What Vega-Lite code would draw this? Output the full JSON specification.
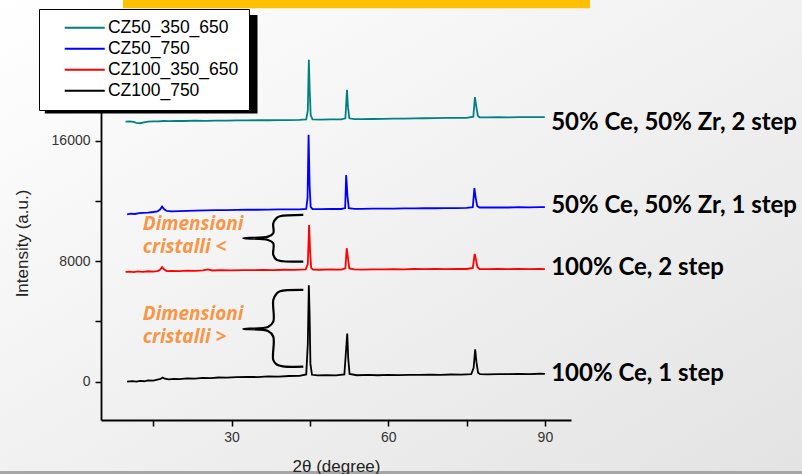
{
  "$schema": "https://vega.github.io/schema/vega-lite/v6.json",
  "width": 470,
  "height": 400,
  "autosize": {"type": "none"},
  "padding": {"left": 101, "top": 20, "right": 231, "bottom": 54},
  "background": "#f2f2f2",
  "config": {"view": {"stroke": null}, "font": "Liberation Sans"},
  "datasets": {
    "xrd": [
      {"s":"CZ100_750","t":10,"v":10},{"s":"CZ100_750","t":11,"v":40},{"s":"CZ100_750","t":11.8,"v":10},{"s":"CZ100_750","t":12.5,"v":60},{"s":"CZ100_750","t":13.3,"v":30},{"s":"CZ100_750","t":14,"v":90},{"s":"CZ100_750","t":15,"v":70},{"s":"CZ100_750","t":15.8,"v":140},{"s":"CZ100_750","t":16.4,"v":180},{"s":"CZ100_750","t":16.8,"v":280},{"s":"CZ100_750","t":17.2,"v":200},{"s":"CZ100_750","t":18,"v":150},{"s":"CZ100_750","t":19,"v":190},{"s":"CZ100_750","t":20,"v":170},{"s":"CZ100_750","t":21.5,"v":220},{"s":"CZ100_750","t":23,"v":200},{"s":"CZ100_750","t":24.5,"v":250},{"s":"CZ100_750","t":26,"v":240},{"s":"CZ100_750","t":27.5,"v":280},{"s":"CZ100_750","t":29,"v":270},{"s":"CZ100_750","t":31,"v":300},{"s":"CZ100_750","t":33,"v":320},{"s":"CZ100_750","t":35,"v":310},{"s":"CZ100_750","t":37,"v":350},{"s":"CZ100_750","t":39,"v":340},{"s":"CZ100_750","t":41,"v":380},{"s":"CZ100_750","t":43,"v":390},{"s":"CZ100_750","t":44.3,"v":480},{"s":"CZ100_750","t":44.6,"v":2500},{"s":"CZ100_750","t":44.8,"v":6400},{"s":"CZ100_750","t":44.95,"v":4400},{"s":"CZ100_750","t":45.1,"v":1200},{"s":"CZ100_750","t":45.4,"v":460},{"s":"CZ100_750","t":46.5,"v":420},{"s":"CZ100_750","t":48,"v":440},{"s":"CZ100_750","t":50,"v":420},{"s":"CZ100_750","t":51.6,"v":480},{"s":"CZ100_750","t":51.95,"v":2200},{"s":"CZ100_750","t":52.15,"v":3200},{"s":"CZ100_750","t":52.35,"v":1500},{"s":"CZ100_750","t":52.6,"v":520},{"s":"CZ100_750","t":54,"v":430},{"s":"CZ100_750","t":56,"v":450},{"s":"CZ100_750","t":58,"v":430},{"s":"CZ100_750","t":60,"v":450},{"s":"CZ100_750","t":62,"v":440},{"s":"CZ100_750","t":64,"v":460},{"s":"CZ100_750","t":66,"v":450},{"s":"CZ100_750","t":68,"v":470},{"s":"CZ100_750","t":70,"v":460},{"s":"CZ100_750","t":72,"v":480},{"s":"CZ100_750","t":74,"v":470},{"s":"CZ100_750","t":75.9,"v":500},{"s":"CZ100_750","t":76.35,"v":900},{"s":"CZ100_750","t":76.65,"v":2150},{"s":"CZ100_750","t":76.9,"v":1300},{"s":"CZ100_750","t":77.2,"v":600},{"s":"CZ100_750","t":77.6,"v":500},{"s":"CZ100_750","t":79,"v":490},{"s":"CZ100_750","t":81,"v":510},{"s":"CZ100_750","t":83,"v":500},{"s":"CZ100_750","t":85,"v":520},{"s":"CZ100_750","t":87,"v":510},{"s":"CZ100_750","t":89,"v":530},{"s":"CZ100_750","t":90,"v":520},

      {"s":"CZ100_350_650","t":9.7,"v":7290},{"s":"CZ100_350_650","t":10.5,"v":7310},{"s":"CZ100_350_650","t":11.3,"v":7270},{"s":"CZ100_350_650","t":12,"v":7320},{"s":"CZ100_350_650","t":13,"v":7290},{"s":"CZ100_350_650","t":14,"v":7330},{"s":"CZ100_350_650","t":15,"v":7300},{"s":"CZ100_350_650","t":15.8,"v":7340},{"s":"CZ100_350_650","t":16.3,"v":7420},{"s":"CZ100_350_650","t":16.7,"v":7600},{"s":"CZ100_350_650","t":17.1,"v":7450},{"s":"CZ100_350_650","t":17.6,"v":7340},{"s":"CZ100_350_650","t":18.5,"v":7360},{"s":"CZ100_350_650","t":20,"v":7340},{"s":"CZ100_350_650","t":21.5,"v":7370},{"s":"CZ100_350_650","t":23,"v":7360},{"s":"CZ100_350_650","t":24.5,"v":7390},{"s":"CZ100_350_650","t":25.5,"v":7450},{"s":"CZ100_350_650","t":26.3,"v":7380},{"s":"CZ100_350_650","t":28,"v":7400},{"s":"CZ100_350_650","t":30,"v":7390},{"s":"CZ100_350_650","t":32,"v":7410},{"s":"CZ100_350_650","t":34,"v":7400},{"s":"CZ100_350_650","t":36,"v":7420},{"s":"CZ100_350_650","t":38,"v":7410},{"s":"CZ100_350_650","t":40,"v":7430},{"s":"CZ100_350_650","t":42,"v":7420},{"s":"CZ100_350_650","t":44.2,"v":7450},{"s":"CZ100_350_650","t":44.6,"v":7800},{"s":"CZ100_350_650","t":44.85,"v":10400},{"s":"CZ100_350_650","t":45.05,"v":8600},{"s":"CZ100_350_650","t":45.25,"v":7550},{"s":"CZ100_350_650","t":45.6,"v":7440},{"s":"CZ100_350_650","t":47,"v":7430},{"s":"CZ100_350_650","t":49,"v":7450},{"s":"CZ100_350_650","t":51,"v":7440},{"s":"CZ100_350_650","t":51.8,"v":7520},{"s":"CZ100_350_650","t":52.05,"v":8860},{"s":"CZ100_350_650","t":52.3,"v":8200},{"s":"CZ100_350_650","t":52.55,"v":7520},{"s":"CZ100_350_650","t":53.5,"v":7450},{"s":"CZ100_350_650","t":55,"v":7440},{"s":"CZ100_350_650","t":57,"v":7460},{"s":"CZ100_350_650","t":59,"v":7450},{"s":"CZ100_350_650","t":61,"v":7470},{"s":"CZ100_350_650","t":63,"v":7460},{"s":"CZ100_350_650","t":65,"v":7480},{"s":"CZ100_350_650","t":67,"v":7470},{"s":"CZ100_350_650","t":69,"v":7480},{"s":"CZ100_350_650","t":71,"v":7470},{"s":"CZ100_350_650","t":73,"v":7490},{"s":"CZ100_350_650","t":75,"v":7480},{"s":"CZ100_350_650","t":76.2,"v":7550},{"s":"CZ100_350_650","t":76.55,"v":8480},{"s":"CZ100_350_650","t":76.8,"v":8100},{"s":"CZ100_350_650","t":77.1,"v":7600},{"s":"CZ100_350_650","t":77.5,"v":7480},{"s":"CZ100_350_650","t":79,"v":7470},{"s":"CZ100_350_650","t":81,"v":7490},{"s":"CZ100_350_650","t":83,"v":7470},{"s":"CZ100_350_650","t":85,"v":7490},{"s":"CZ100_350_650","t":87,"v":7470},{"s":"CZ100_350_650","t":89,"v":7480},{"s":"CZ100_350_650","t":90,"v":7470},

      {"s":"CZ50_750","t":10,"v":11110},{"s":"CZ50_750","t":10.7,"v":11150},{"s":"CZ50_750","t":11.5,"v":11130},{"s":"CZ50_750","t":12.3,"v":11180},{"s":"CZ50_750","t":13,"v":11200},{"s":"CZ50_750","t":14,"v":11220},{"s":"CZ50_750","t":15,"v":11260},{"s":"CZ50_750","t":15.8,"v":11300},{"s":"CZ50_750","t":16.3,"v":11420},{"s":"CZ50_750","t":16.7,"v":11620},{"s":"CZ50_750","t":17.1,"v":11440},{"s":"CZ50_750","t":17.6,"v":11330},{"s":"CZ50_750","t":18.5,"v":11300},{"s":"CZ50_750","t":20,"v":11320},{"s":"CZ50_750","t":21.5,"v":11340},{"s":"CZ50_750","t":23,"v":11350},{"s":"CZ50_750","t":25,"v":11370},{"s":"CZ50_750","t":27,"v":11380},{"s":"CZ50_750","t":29,"v":11390},{"s":"CZ50_750","t":31,"v":11400},{"s":"CZ50_750","t":33,"v":11410},{"s":"CZ50_750","t":35,"v":11410},{"s":"CZ50_750","t":37,"v":11420},{"s":"CZ50_750","t":39,"v":11430},{"s":"CZ50_750","t":41,"v":11430},{"s":"CZ50_750","t":43,"v":11440},{"s":"CZ50_750","t":44.3,"v":11470},{"s":"CZ50_750","t":44.55,"v":12200},{"s":"CZ50_750","t":44.75,"v":16380},{"s":"CZ50_750","t":44.95,"v":13000},{"s":"CZ50_750","t":45.15,"v":11600},{"s":"CZ50_750","t":45.5,"v":11460},{"s":"CZ50_750","t":47,"v":11450},{"s":"CZ50_750","t":49,"v":11460},{"s":"CZ50_750","t":51,"v":11460},{"s":"CZ50_750","t":51.75,"v":11520},{"s":"CZ50_750","t":51.95,"v":13720},{"s":"CZ50_750","t":52.2,"v":12300},{"s":"CZ50_750","t":52.45,"v":11520},{"s":"CZ50_750","t":53.5,"v":11470},{"s":"CZ50_750","t":55,"v":11470},{"s":"CZ50_750","t":57,"v":11480},{"s":"CZ50_750","t":59,"v":11480},{"s":"CZ50_750","t":61,"v":11490},{"s":"CZ50_750","t":63,"v":11500},{"s":"CZ50_750","t":65,"v":11500},{"s":"CZ50_750","t":67,"v":11510},{"s":"CZ50_750","t":69,"v":11510},{"s":"CZ50_750","t":71,"v":11520},{"s":"CZ50_750","t":73,"v":11520},{"s":"CZ50_750","t":75,"v":11530},{"s":"CZ50_750","t":76.2,"v":11580},{"s":"CZ50_750","t":76.5,"v":12840},{"s":"CZ50_750","t":76.75,"v":12200},{"s":"CZ50_750","t":77.05,"v":11650},{"s":"CZ50_750","t":77.5,"v":11560},{"s":"CZ50_750","t":79,"v":11560},{"s":"CZ50_750","t":81,"v":11570},{"s":"CZ50_750","t":83,"v":11560},{"s":"CZ50_750","t":85,"v":11580},{"s":"CZ50_750","t":87,"v":11570},{"s":"CZ50_750","t":89,"v":11580},{"s":"CZ50_750","t":90,"v":11580},

      {"s":"CZ50_350_650","t":9.7,"v":17260},{"s":"CZ50_350_650","t":10.5,"v":17270},{"s":"CZ50_350_650","t":11.2,"v":17240},{"s":"CZ50_350_650","t":11.8,"v":17180},{"s":"CZ50_350_650","t":12.5,"v":17150},{"s":"CZ50_350_650","t":13.2,"v":17200},{"s":"CZ50_350_650","t":14,"v":17260},{"s":"CZ50_350_650","t":15,"v":17280},{"s":"CZ50_350_650","t":16,"v":17270},{"s":"CZ50_350_650","t":17,"v":17300},{"s":"CZ50_350_650","t":18,"v":17290},{"s":"CZ50_350_650","t":19.5,"v":17310},{"s":"CZ50_350_650","t":21,"v":17300},{"s":"CZ50_350_650","t":23,"v":17320},{"s":"CZ50_350_650","t":25,"v":17310},{"s":"CZ50_350_650","t":27,"v":17330},{"s":"CZ50_350_650","t":29,"v":17320},{"s":"CZ50_350_650","t":31,"v":17340},{"s":"CZ50_350_650","t":33,"v":17340},{"s":"CZ50_350_650","t":35,"v":17350},{"s":"CZ50_350_650","t":37,"v":17350},{"s":"CZ50_350_650","t":39,"v":17360},{"s":"CZ50_350_650","t":41,"v":17360},{"s":"CZ50_350_650","t":43,"v":17370},{"s":"CZ50_350_650","t":44.3,"v":17400},{"s":"CZ50_350_650","t":44.6,"v":18000},{"s":"CZ50_350_650","t":44.8,"v":21360},{"s":"CZ50_350_650","t":44.95,"v":19500},{"s":"CZ50_350_650","t":45.15,"v":17700},{"s":"CZ50_350_650","t":45.5,"v":17400},{"s":"CZ50_350_650","t":47,"v":17390},{"s":"CZ50_350_650","t":49,"v":17400},{"s":"CZ50_350_650","t":51,"v":17410},{"s":"CZ50_350_650","t":51.8,"v":17480},{"s":"CZ50_350_650","t":52.1,"v":19370},{"s":"CZ50_350_650","t":52.3,"v":18200},{"s":"CZ50_350_650","t":52.55,"v":17480},{"s":"CZ50_350_650","t":53.5,"v":17420},{"s":"CZ50_350_650","t":55,"v":17420},{"s":"CZ50_350_650","t":57,"v":17430},{"s":"CZ50_350_650","t":59,"v":17440},{"s":"CZ50_350_650","t":61,"v":17450},{"s":"CZ50_350_650","t":63,"v":17460},{"s":"CZ50_350_650","t":65,"v":17470},{"s":"CZ50_350_650","t":67,"v":17480},{"s":"CZ50_350_650","t":69,"v":17490},{"s":"CZ50_350_650","t":71,"v":17500},{"s":"CZ50_350_650","t":73,"v":17500},{"s":"CZ50_350_650","t":75,"v":17510},{"s":"CZ50_350_650","t":76.3,"v":17580},{"s":"CZ50_350_650","t":76.6,"v":18880},{"s":"CZ50_350_650","t":76.85,"v":18300},{"s":"CZ50_350_650","t":77.15,"v":17650},{"s":"CZ50_350_650","t":77.5,"v":17540},{"s":"CZ50_350_650","t":79,"v":17540},{"s":"CZ50_350_650","t":81,"v":17550},{"s":"CZ50_350_650","t":83,"v":17540},{"s":"CZ50_350_650","t":85,"v":17560},{"s":"CZ50_350_650","t":87,"v":17550},{"s":"CZ50_350_650","t":89,"v":17560},{"s":"CZ50_350_650","t":90,"v":17560}
    ],
    "braces": [
      {"b":1,"i":1,"t":43.74,"v":11067},{"b":1,"i":2,"t":39.28,"v":10981},{"b":1,"i":3,"t":38.65,"v":10868},{"b":1,"i":4,"t":37.99,"v":10516},{"b":1,"i":5,"t":37.99,"v":9852},{"b":1,"i":6,"t":36.98,"v":9627},{"b":1,"i":7,"t":32.25,"v":9520},{"b":1,"i":8,"t":36.98,"v":9408},{"b":1,"i":9,"t":37.99,"v":9188},{"b":1,"i":10,"t":37.99,"v":8412},{"b":1,"i":11,"t":38.65,"v":8080},{"b":1,"i":12,"t":39.85,"v":7993},{"b":1,"i":13,"t":43.74,"v":7967},
      {"b":2,"i":1,"t":43.74,"v":6088},{"b":2,"i":2,"t":39.28,"v":6002},{"b":2,"i":3,"t":38.65,"v":5856},{"b":2,"i":4,"t":37.99,"v":5424},{"b":2,"i":5,"t":37.99,"v":3983},{"b":2,"i":6,"t":36.98,"v":3632},{"b":2,"i":7,"t":32.25,"v":3499},{"b":2,"i":8,"t":36.98,"v":3366},{"b":2,"i":9,"t":37.99,"v":2988},{"b":2,"i":10,"t":37.99,"v":1441},{"b":2,"i":11,"t":38.65,"v":1142},{"b":2,"i":12,"t":39.85,"v":1022},{"b":2,"i":13,"t":43.74,"v":996}
    ],
    "labels": [
      {"t":91.2,"v":17165,"label":"50% Ce, 50% Zr, 2 step"},
      {"t":91.2,"v":11658,"label":"50% Ce, 50% Zr, 1 step"},
      {"t":91.2,"v":7544,"label":"100% Ce, 2 step"},
      {"t":91.2,"v":511,"label":"100% Ce, 1 step"}
    ],
    "notes": [
      {"t":13.0,"v":10463,"label":["Dimensioni","cristalli <"]},
      {"t":13.0,"v":4492,"label":["Dimensioni","cristalli >"]}
    ]
  },
  "layer": [
    {
      "data": {"values": [{"k": 1}]},
      "mark": {"type": "rect", "clip": false, "color": {"gradient": "linear", "x1": 0, "y1": 0, "x2": 1, "y2": 1, "stops": [{"offset": 0, "color": "#ffffff"}, {"offset": 1, "color": "#e3e3e3"}]}},
      "encoding": {
        "x": {"datum": -14.4, "type": "quantitative", "title": "2θ (degree)"},
        "x2": {"datum": 139.3},
        "y": {"datum": 25400, "type": "quantitative", "title": "Intensity (a.u.)"},
        "y2": {"datum": -6200}
      }
    },
    {
      "data": {"values": [{"k": 1}]},
      "mark": {"type": "rect", "clip": false, "color": "#a6a6a6"},
      "encoding": {
        "x": {"datum": -14.4, "type": "quantitative", "title": "2θ (degree)"},
        "x2": {"datum": 139.3},
        "y": {"datum": -5924, "type": "quantitative", "title": "Intensity (a.u.)"},
        "y2": {"datum": -6250}
      }
    },
    {
      "data": {"values": [{"k": 1}]},
      "mark": {"type": "rect", "clip": false, "color": "#ffc000"},
      "encoding": {
        "x": {"datum": 9.21, "type": "quantitative", "title": "2θ (degree)"},
        "x2": {"datum": 98.64},
        "y": {"datum": 25400, "type": "quantitative", "title": "Intensity (a.u.)"},
        "y2": {"datum": 24776}
      }
    },
    {
      "data": {"values": [{"k": 1}]},
      "mark": {"type": "rect", "clip": false, "color": "#000000"},
      "encoding": {
        "x": {"datum": -5.76, "type": "quantitative", "title": "2θ (degree)"},
        "x2": {"datum": 34.97},
        "y": {"datum": 24332, "type": "quantitative", "title": "Intensity (a.u.)"},
        "y2": {"datum": 17796}
      }
    },
    {
      "data": {"name": "xrd"},
      "mark": {"type": "line", "strokeWidth": 1.8},
      "encoding": {
        "x": {
          "field": "t", "type": "quantitative", "title": "2θ (degree)",
          "scale": {"domain": [5, 95], "nice": false, "zero": false},
          "axis": {
            "values": [15, 30, 45, 60, 75, 90],
            "labelExpr": "datum.value % 30 == 0 ? datum.label : ''",
            "grid": false, "domainColor": "#000000", "domainWidth": 1.8,
            "tickColor": "#000000", "tickWidth": 1.5, "tickSize": 6,
            "labelFont": "Liberation Sans", "labelFontSize": 14, "labelColor": "#333333", "labelPadding": 4,
            "titleFont": "Liberation Sans", "titleFontSize": 17, "titleFontWeight": "normal", "titleColor": "#222222",
            "titleY": 46, "titleBaseline": "middle", "zindex": 1
          }
        },
        "y": {
          "field": "v", "type": "quantitative", "title": "Intensity (a.u.)",
          "scale": {"domain": [-2540, 24000], "nice": false, "zero": false},
          "axis": {
            "values": [0, 4000, 8000, 12000, 16000], "format": "d",
            "labelExpr": "datum.value % 8000 == 0 ? datum.label : ''",
            "grid": false, "domainColor": "#000000", "domainWidth": 1.8,
            "tickColor": "#000000", "tickWidth": 1.5, "tickSize": 6,
            "labelFont": "Liberation Sans", "labelFontSize": 14, "labelColor": "#333333", "labelPadding": 5,
            "titleFont": "Liberation Sans", "titleFontSize": 17, "titleFontWeight": "normal", "titleColor": "#222222",
            "titleX": -79, "titleY": 223, "titleBaseline": "middle", "titleAngle": -90, "zindex": 1
          }
        },
        "color": {
          "field": "s", "type": "nominal",
          "scale": {"domain": ["CZ50_350_650", "CZ50_750", "CZ100_350_650", "CZ100_750"], "range": ["#008080", "#0000ff", "#ff0000", "#000000"]},
          "legend": {
            "title": null, "orient": "none", "legendX": -62, "legendY": -11,
            "symbolType": "M-5,0H5", "symbolSize": 64, "symbolStrokeWidth": 2,
            "labelFont": "Liberation Sans", "labelFontSize": 17.5, "labelColor": "#000000",
            "fillColor": "#ffffff", "strokeColor": "#000000", "padding": 10,
            "symbolOffset": 27, "labelOffset": 14.4, "rowPadding": 2, "zindex": 2
          }
        }
      }
    },
    {
      "data": {"name": "braces"},
      "mark": {"type": "line", "color": "#000000", "strokeWidth": 2.2, "interpolate": "catmull-rom", "clip": false},
      "encoding": {
        "x": {"field": "t", "type": "quantitative", "title": "2θ (degree)"},
        "y": {"field": "v", "type": "quantitative", "title": "Intensity (a.u.)"},
        "detail": {"field": "b", "type": "nominal"},
        "order": {"field": "i", "type": "quantitative"}
      }
    },
    {
      "data": {"name": "labels"},
      "mark": {"type": "text", "align": "left", "baseline": "middle", "font": "Lato", "fontWeight": "bold", "fontSize": 24, "color": "#000000", "clip": false},
      "encoding": {
        "x": {"field": "t", "type": "quantitative", "title": "2θ (degree)"},
        "y": {"field": "v", "type": "quantitative", "title": "Intensity (a.u.)"},
        "text": {"field": "label"}
      }
    },
    {
      "data": {"name": "notes"},
      "mark": {"type": "text", "align": "left", "baseline": "middle", "lineHeight": 23, "font": "Open Sans", "fontWeight": "bold", "fontStyle": "italic", "fontSize": 19, "color": "#f79646", "clip": false},
      "encoding": {
        "x": {"field": "t", "type": "quantitative", "title": "2θ (degree)"},
        "y": {"field": "v", "type": "quantitative", "title": "Intensity (a.u.)"},
        "text": {"field": "label"}
      }
    }
  ]
}
